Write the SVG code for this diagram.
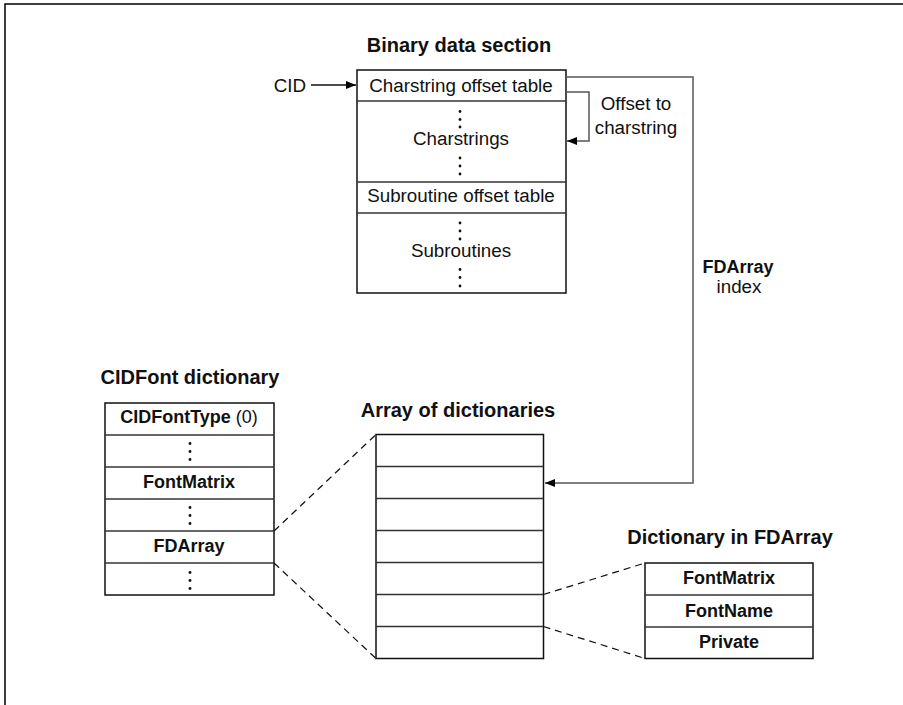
<svg xmlns="http://www.w3.org/2000/svg" width="903" height="705" viewBox="0 0 903 705">
<defs>
<marker id="ah" viewBox="0 0 10 8" refX="10" refY="4" markerWidth="10" markerHeight="8" markerUnits="userSpaceOnUse" orient="auto">
<path d="M0,0 L10,4 L0,8 Z" fill="#000"/>
</marker>
<style>
.box{fill:#fff;stroke:#111;stroke-width:1.5}
.sep{stroke:#333;stroke-width:1.6;fill:none}
.conn{stroke:#555;stroke-width:1.5;fill:none}
.dash{stroke:#111;stroke-width:1.2;fill:none;stroke-dasharray:7 5}
.dot{fill:#111}
.t{font-family:"Liberation Sans",Arial,sans-serif;font-size:18.8px;fill:#111;text-anchor:middle}
.b{font-family:"Liberation Sans",Arial,sans-serif;font-size:18px;font-weight:bold;fill:#111;text-anchor:middle}
.title{font-family:"Liberation Sans",Arial,sans-serif;font-size:20px;font-weight:bold;fill:#111;text-anchor:middle}
</style>
</defs>
<rect width="903" height="705" fill="#fff"/>
<path d="M5,705 L5,4 L903,4" fill="none" stroke="#000" stroke-width="1.5"/>

<g id="binary-data-section">
<text class="title" x="459" y="52">Binary data section</text>
<rect class="box" x="357" y="70" width="209" height="223"/>
<line class="sep" x1="357" y1="101" x2="566" y2="101"/>
<line class="sep" x1="357" y1="182" x2="566" y2="182"/>
<line class="sep" x1="357" y1="213" x2="566" y2="213"/>
<text class="t" x="461" y="92">Charstring offset table</text>
<g class="dot">
<circle cx="460" cy="111.5" r="1.4"/><circle cx="460" cy="119.5" r="1.4"/><circle cx="460" cy="127" r="1.4"/>
<circle cx="460" cy="158" r="1.4"/><circle cx="460" cy="166" r="1.4"/><circle cx="460" cy="174" r="1.4"/>
<circle cx="460" cy="223" r="1.4"/><circle cx="460" cy="231" r="1.4"/><circle cx="460" cy="239" r="1.4"/>
<circle cx="460" cy="269.5" r="1.4"/><circle cx="460" cy="277.5" r="1.4"/><circle cx="460" cy="286" r="1.4"/>
</g>
<text class="t" x="461" y="145">Charstrings</text>
<text class="t" x="461" y="202">Subroutine offset table</text>
<text class="t" x="461" y="257">Subroutines</text>
</g>

<g id="cid-label">
<text class="t" x="306" y="92" style="text-anchor:end">CID</text>
</g>

<g id="cidfont-dictionary">
<text class="title" x="190" y="384">CIDFont dictionary</text>
<rect class="box" x="105" y="403" width="169" height="192"/>
<line class="sep" x1="105" y1="435" x2="274" y2="435"/>
<line class="sep" x1="105" y1="467" x2="274" y2="467"/>
<line class="sep" x1="105" y1="499" x2="274" y2="499"/>
<line class="sep" x1="105" y1="531" x2="274" y2="531"/>
<line class="sep" x1="105" y1="563" x2="274" y2="563"/>
<text class="b" x="189" y="423">CIDFontType<tspan style="font-weight:normal"> (0)</tspan></text>
<text class="b" x="189" y="487.5">FontMatrix</text>
<text class="b" x="189" y="552">FDArray</text>
<g class="dot">
<circle cx="190" cy="443.5" r="1.4"/><circle cx="190" cy="451.5" r="1.4"/><circle cx="190" cy="459.5" r="1.4"/>
<circle cx="190" cy="507.5" r="1.4"/><circle cx="190" cy="515.5" r="1.4"/><circle cx="190" cy="523.5" r="1.4"/>
<circle cx="190" cy="572.5" r="1.4"/><circle cx="190" cy="580.5" r="1.4"/><circle cx="190" cy="588.5" r="1.4"/>
</g>
</g>

<g id="array-of-dictionaries">
<text class="title" x="458" y="417">Array of dictionaries</text>
<rect class="box" x="376" y="434.5" width="167.5" height="224"/>
<line class="sep" x1="376" y1="466.5" x2="543.5" y2="466.5"/>
<line class="sep" x1="376" y1="498.5" x2="543.5" y2="498.5"/>
<line class="sep" x1="376" y1="530.5" x2="543.5" y2="530.5"/>
<line class="sep" x1="376" y1="562.5" x2="543.5" y2="562.5"/>
<line class="sep" x1="376" y1="594.5" x2="543.5" y2="594.5"/>
<line class="sep" x1="376" y1="626.5" x2="543.5" y2="626.5"/>
</g>

<g id="dictionary-in-fdarray">
<text class="title" x="730" y="544">Dictionary in FDArray</text>
<rect class="box" x="645" y="563" width="168" height="95.5"/>
<line class="sep" x1="645" y1="595" x2="813" y2="595"/>
<line class="sep" x1="645" y1="627" x2="813" y2="627"/>
<text class="b" x="729" y="584">FontMatrix</text>
<text class="b" x="729" y="616.5">FontName</text>
<text class="b" x="729" y="648">Private</text>
</g>

<g id="labels">
<text class="t" x="636" y="110">Offset to</text>
<text class="t" x="636" y="133.5">charstring</text>
<text class="b" x="738" y="273">FDArray</text>
<text class="t" x="739" y="293">index</text>
</g>

<g id="connectors">
<line x1="311" y1="85" x2="356" y2="85" stroke="#111" stroke-width="1.5" marker-end="url(#ah)"/>
<path class="conn" d="M566,92 L589,92 L589,141 L567,141" marker-end="url(#ah)"/>
<path class="conn" d="M566,77 L693,77 L693,483 L545,483" marker-end="url(#ah)"/>
<line class="dash" x1="274" y1="531" x2="376" y2="434.5"/>
<line class="dash" x1="274" y1="563" x2="376" y2="658.5"/>
<line class="dash" x1="543.5" y1="594.5" x2="645" y2="563"/>
<line class="dash" x1="543.5" y1="626.5" x2="645" y2="658.5"/>
</g>
</svg>
